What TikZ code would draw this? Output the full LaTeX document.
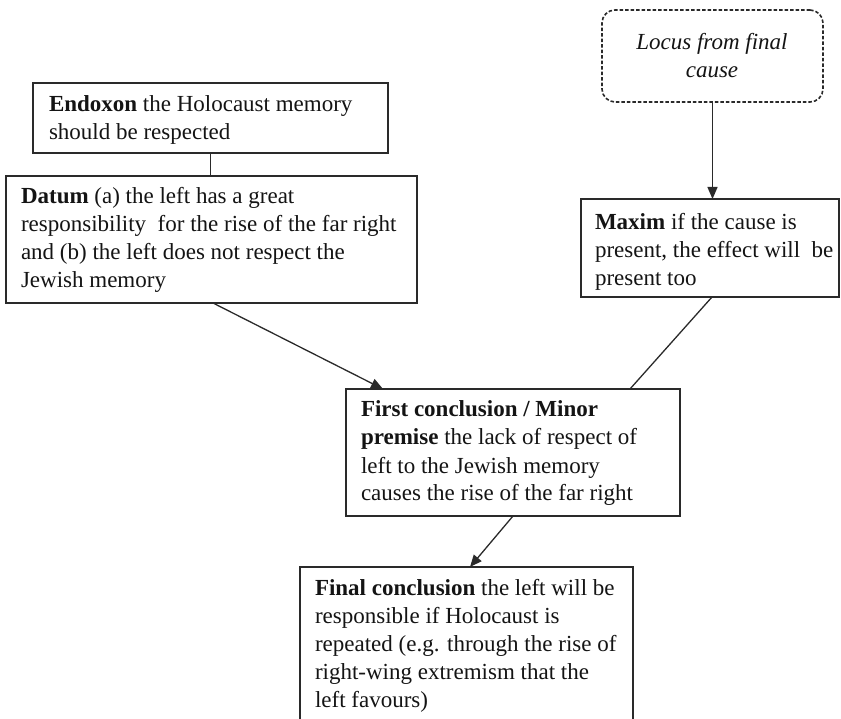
\documentclass[tikz,border=0pt]{standalone}
\usepackage{fontspec}
\setmainfont{Liberation Serif}
\usetikzlibrary{arrows.meta}
\definecolor{ink}{HTML}{141414}
\definecolor{edge}{HTML}{2A2A2A}
\newcommand{\boxtext}[2]{\parbox[t]{#1}{\fontsize{23}{28}\selectfont\raggedright #2}}
\tikzset{
  frame/.style={draw=edge, line width=1.6pt, rectangle, inner sep=0pt, outer sep=0pt, fill=white},
  dashframe/.style={draw=edge, line width=1.6pt, rectangle, rounded corners=13pt, dash pattern=on 3.5pt off 2pt, inner sep=0pt, outer sep=0pt},
  txt/.style={inner sep=0pt, outer sep=0pt, text=ink, anchor=base west},
  link/.style={draw=edge, line width=1.3pt},
  arrowlink/.style={link, -{Triangle[length=12pt,width=10pt]}}
}
\begin{document}
\begin{tikzpicture}[x=1pt, y=-1pt]
\useasboundingbox (0,0) rectangle (841,719);
\clip (0,0) rectangle (841,719);

% boxes
\node[dashframe, anchor=north west, minimum width=221pt, minimum height=92pt] (locus) at (602,10) {};
\node[frame, anchor=north west, minimum width=355pt, minimum height=70pt] (endoxon) at (33,83) {};
\node[frame, anchor=north west, minimum width=411pt, minimum height=127pt] (datum) at (6,176) {};
\node[frame, anchor=north west, minimum width=258pt, minimum height=98pt] (maxim) at (581,199) {};
\node[frame, anchor=north west, minimum width=334pt, minimum height=127pt] (first) at (346,389) {};
\node[frame, anchor=north west, minimum width=333pt, minimum height=170pt] (final) at (300,567) {};

% texts
\node[txt, anchor=base] (locusT) at (712,50) {\parbox[t]{210pt}{\fontsize{23}{28}\selectfont\centering\itshape Locus from final\\ cause}};
\node[txt] (endoxonT) at (49,112) {\boxtext{335pt}{\textbf{Endoxon} the Holocaust memory\\ should be respected}};
\node[txt] (datumT) at (21,204) {\boxtext{392pt}{\textbf{Datum} (a) the left has a great\\ responsibility \ for the rise of the far right\\ and (b) the left does not respect the\\ Jewish memory}};
\node[txt] (maximT) at (595,230) {\boxtext{244pt}{\textbf{Maxim} if the cause is\\ present, the effect will \ be\\ present too}};
\node[txt] (firstT) at (361,417) {\boxtext{315pt}{\textbf{First conclusion / Minor}\\ \textbf{premise} the lack of respect of\\ left to the Jewish memory\\ causes the rise of the far right}};
\node[txt] (finalT) at (315,595) {\boxtext{315pt}{\textbf{Final conclusion} the left will be\\ responsible if Holocaust is\\ repeated (e.g. through the rise of\\ right-wing extremism that the\\ left favours)}};

% connectors
\draw[arrowlink] (locus.south) -- (locus.south |- maxim.north);
\draw[link] (endoxon.south) -- (endoxon.south |- datum.north);
\draw[arrowlink] ([xshift=1.5pt]datum.south) -- ([xshift=37pt]first.north west);
\draw[link] ([xshift=2pt]maxim.south) -- ([xshift=-50pt]first.north east);
\draw[arrowlink] (first.south) -- ([xshift=170pt]final.north west);
\end{tikzpicture}
\end{document}
